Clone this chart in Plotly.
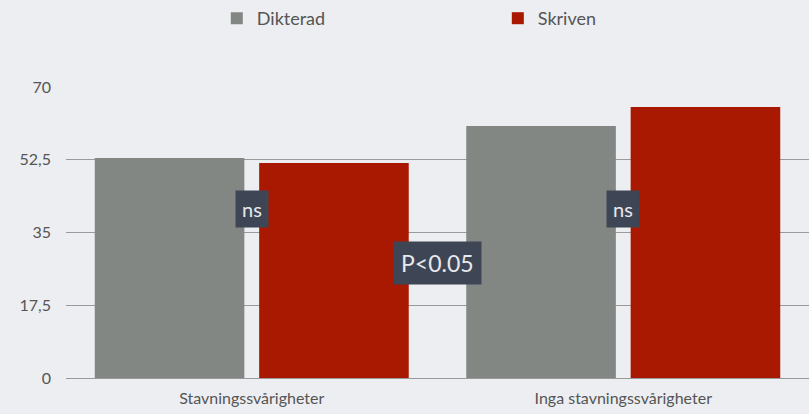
import plotly.graph_objects as go

categories = ["Stavningssvårigheter", "Inga stavningssvårigheter"]
series_names = ["Dikterad", "Skriven"]
dikterad = [52.9, 60.6]
skriven = [51.7, 65.2]
tick_vals = [0, 17.5, 35, 52.5, 70]
tick_text = ["0", "17,5", "35", "52,5", "70"]
sig_labels = ["ns", "ns"]
between_label = "P<0.05"

colors = ["#828784", "#a91800"]
font_family = "Lato, 'Open Sans', sans-serif"

fig = go.Figure()
for name, vals, col in zip(series_names, [dikterad, skriven], colors):
    fig.add_trace(go.Bar(name=name, x=categories, y=vals, marker=dict(color=col, line=dict(width=0))))

annots = []
for cat, lab in zip(categories, sig_labels):
    annots.append(dict(x=cat, y=40.7, xref="x", yref="y", text=lab, showarrow=False,
                       font=dict(size=20, color="#e8e8ec", family=font_family),
                       bgcolor="#3e4655", borderpad=6))
annots.append(dict(x=0.5, y=27.7, xref="x", yref="y", text=between_label, showarrow=False,
                   font=dict(size=23, color="#e8e8ec", family=font_family),
                   bgcolor="#3e4655", borderpad=7))

fig.update_layout(
    width=809, height=414,
    margin=dict(l=66, r=0, t=87, b=36, autoexpand=False),
    paper_bgcolor="#eceef1", plot_bgcolor="#eceef1",
    barmode="group", bargap=0.115, bargroupgap=0.09,
    font=dict(family=font_family, color="#555555", size=16),
    showlegend=True,
    legend=dict(orientation="h", x=0.268, xanchor="left", y=1.0, yanchor="top",
                yref="container", xref="container", entrywidth=236, entrywidthmode="pixels",
                font=dict(size=18, color="#555555"), bgcolor="rgba(0,0,0,0)",
                traceorder="normal"),
    annotations=annots,
)
fig.update_xaxes(type="category", showgrid=False, showline=False, ticks="", automargin=False,
                 ticklabelstandoff=9, tickfont=dict(size=16, color="#555555"))
fig.update_yaxes(range=[0, 70], tickvals=tick_vals, ticktext=tick_text, automargin=False,
                 showgrid=True, gridcolor="#9a9a9a", gridwidth=1, zeroline=True,
                 zerolinecolor="#9a9a9a", zerolinewidth=1, showline=False, ticks="",
                 ticklabelstandoff=14, tickfont=dict(size=16, color="#555555"))

fig.write_html("out.html", config={"displayModeBar": False},
               post_script="document.body.style.margin='0';document.body.style.background='#eceef1';")
